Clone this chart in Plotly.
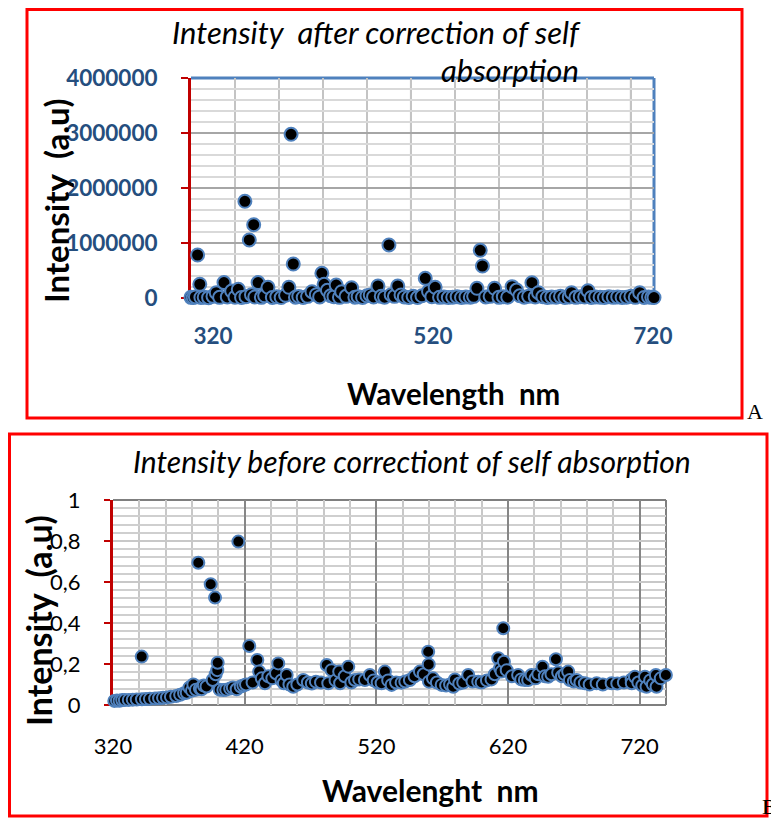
import plotly.graph_objects as go

# ---------------- Panel A data: intensity after correction of self absorption
wl_a = [300, 302, 304, 306, 308, 309, 312, 316, 320, 323, 326, 330, 333, 337, 340, 343, 346,
        349, 350, 353, 355, 357, 358, 361, 364, 367, 370, 374, 378, 382, 386, 389, 391, 393,
        395, 398, 402, 406, 410, 414, 417, 419, 421, 424, 427, 430, 432, 435, 437, 441, 446,
        449, 452, 456, 460, 463, 466, 470, 473, 476, 480, 482, 485, 488, 491, 494, 498, 502,
        506, 510, 513, 516, 519, 522, 526, 530, 534, 538, 542, 546, 550, 554, 557, 560, 563,
        565, 568, 572, 576, 580, 584, 588, 592, 596, 599, 603, 607, 610, 613, 616, 620, 624,
        628, 632, 636, 640, 644, 646, 650, 654, 658, 661, 664, 668, 672, 676, 680, 684, 688,
        692, 696, 700, 704, 708, 712, 716, 719, 721]
int_a = [12000, 8000, 20000, 782000, 250000, 10000, 15000, 6000, 30000, 96000, 12000, 280000,
         20000, 127000, 14000, 158000, 9000, 1758000, 25000, 1055000, 60000, 1333000, 18000,
         280000, 12000, 40000, 195000, 10000, 22000, 8000, 50000, 195000, 2976000, 618000,
         15000, 28000, 9000, 30000, 115000, 60000, 20000, 449000, 249000, 140000, 40000, 25000,
         236000, 12000, 115000, 30000, 187000, 15000, 25000, 10000, 40000, 55000, 20000, 218000,
         30000, 14000, 964000, 60000, 30000, 218000, 55000, 20000, 10000, 30000, 8000, 40000,
         358000, 120000, 25000, 195000, 12000, 20000, 8000, 15000, 25000, 10000, 20000, 14000,
         30000, 176000, 867000, 582000, 20000, 30000, 176000, 12000, 25000, 15000, 206000,
         145000, 40000, 15000, 30000, 278000, 20000, 96000, 25000, 10000, 20000, 15000, 30000,
         8000, 20000, 96000, 12000, 25000, 18000, 133000, 10000, 20000, 15000, 8000, 22000,
         12000, 20000, 10000, 15000, 30000, 12000, 96000, 10000, 20000, 12000, 8000]

a_xtick_vals = [320, 520, 720]
a_xtick_text = ["320", "520", "720"]
a_ytick_vals = [0, 1000000, 2000000, 3000000, 4000000]
a_ytick_text = ["0", "1000000", "2000000", "3000000", "4000000"]
a_minor_x = [300, 340, 380, 420, 460, 500, 540, 580, 620, 660, 700]
a_dark_x = [500, 700]

# ---------------- Panel B data: intensity before correction of self absorption
wl_b = [321, 323, 325, 327, 329, 332, 335, 338, 341.8, 342, 345, 348, 352, 355, 358, 361, 364,
        368, 371, 374, 376, 378, 380, 381, 383, 384.8, 386, 387.3, 389, 391, 394.2, 395.7,
        397.5, 398, 399.2, 399.5, 401, 403.8, 406, 409, 411, 413.9, 415.2, 417, 419, 421,
        423.5, 426, 429.6, 431, 433, 435.4, 438, 441, 443.8, 445.5, 448, 449.8, 451.9, 454,
        456.9, 460, 464.5, 468, 471, 474.1, 478, 482.3, 483.5, 486, 489, 491.8, 492.5, 496,
        498.7, 501, 503.8, 507, 511.3, 515.1, 518, 521, 524, 526.5, 529, 531.6, 535, 539.2,
        542, 545.5, 549, 553.1, 556, 559.4, 559.8, 560, 563, 566, 569.6, 573, 576, 578.4,
        579.7, 583, 586, 589.8, 593, 597.4, 600, 604, 607.5, 610, 612.6, 614, 615.1, 616.4,
        616.9, 619, 623, 627.7, 630, 632.8, 635.3, 637.9, 641, 643, 646.2, 648, 650.5, 653,
        656.4, 658.1, 661, 663, 665.7, 667, 670, 672.1, 675, 678.4, 682, 687.3, 692, 698.7,
        703, 708, 713.9, 714, 716.4, 719, 722, 724, 725.2, 728, 730, 732.3, 732.8, 736,
        739.9, 740.4]
int_b = [0.020, 0.022, 0.021, 0.024, 0.024, 0.025, 0.026, 0.027, 0.236, 0.028, 0.029, 0.030,
         0.032, 0.033, 0.035, 0.037, 0.040, 0.044, 0.050, 0.057, 0.060, 0.085, 0.070, 0.100,
         0.075, 0.694, 0.080, 0.077, 0.095, 0.090, 0.589, 0.122, 0.524, 0.150, 0.170, 0.206,
         0.075, 0.073, 0.075, 0.080, 0.085, 0.077, 0.797, 0.090, 0.095, 0.100, 0.288, 0.110,
         0.220, 0.163, 0.130, 0.106, 0.140, 0.130, 0.155, 0.203, 0.120, 0.106, 0.146, 0.100,
         0.089, 0.100, 0.122, 0.110, 0.105, 0.114, 0.110, 0.195, 0.106, 0.170, 0.120, 0.163,
         0.106, 0.140, 0.187, 0.110, 0.122, 0.125, 0.122, 0.146, 0.120, 0.110, 0.106, 0.163,
         0.120, 0.098, 0.110, 0.109, 0.115, 0.122, 0.140, 0.163, 0.150, 0.260, 0.198, 0.114,
         0.130, 0.110, 0.098, 0.095, 0.100, 0.089, 0.125, 0.105, 0.110, 0.146, 0.115, 0.114,
         0.110, 0.120, 0.125, 0.150, 0.228, 0.180, 0.163, 0.374, 0.211, 0.170, 0.140, 0.146,
         0.125, 0.122, 0.122, 0.146, 0.130, 0.150, 0.187, 0.140, 0.138, 0.150, 0.223, 0.158,
         0.140, 0.150, 0.163, 0.122, 0.115, 0.122, 0.110, 0.106, 0.100, 0.106, 0.100, 0.106,
         0.105, 0.110, 0.125, 0.106, 0.138, 0.110, 0.095, 0.138, 0.089, 0.120, 0.100, 0.146,
         0.089, 0.130, 0.146, 0.081]

b_xtick_vals = [320, 420, 520, 620, 720]
b_xtick_text = ["320", "420", "520", "620", "720"]
b_ytick_vals = [0, 0.2, 0.4, 0.6, 0.8, 1.0]
b_ytick_text = ["0", "0,2", "0,4", "0,6", "0,8", "1"]

W, H = 779, 819
OFF = 8  # page body margin shifts the figure by this many pixels
FONT = "Lato, 'Open Sans', sans-serif"
NAVY = "#254E7E"
RED_AX = "#C00000"
BLUE = "#4F81BD"


def px(x):
    return (x - OFF) / W


def py(y):
    return 1 - (y - OFF) / H


fig = go.Figure()

marker_a = dict(color="black", size=13, line=dict(color=BLUE, width=2))
marker_b = dict(color="black", size=12, line=dict(color=BLUE, width=2))
fig.add_trace(go.Scatter(x=wl_a, y=int_a, mode="markers", marker=marker_a,
                         xaxis="x", yaxis="y", cliponaxis=False, showlegend=False))
fig.add_trace(go.Scatter(x=wl_b, y=int_b, mode="markers", marker=marker_b,
                         xaxis="x2", yaxis="y2", cliponaxis=False, showlegend=False))

fig.update_layout(
    template="none",
    width=W, height=H, margin=dict(l=0, r=0, t=0, b=0, pad=0), autosize=False,
    paper_bgcolor="white", plot_bgcolor="white", showlegend=False,
    font=dict(family=FONT, color="black"),
    xaxis=dict(domain=[px(191), px(654)], anchor="y", range=[300, 721], automargin=False,
               tickmode="array", tickvals=a_xtick_vals, ticktext=a_xtick_text,
               showgrid=False, zeroline=False, showline=False, ticks="",
               ticklabelstandoff=22,
               tickfont=dict(family=FONT, size=22.5, color=NAVY, weight="bold"),
               minor=dict(tickmode="array", tickvals=a_minor_x, showgrid=True,
                          gridcolor="#C4C4C4", gridwidth=2, ticks="")),
    yaxis=dict(domain=[py(298), py(78)], anchor="x", range=[0, 4000000], automargin=False,
               tickmode="array", tickvals=a_ytick_vals, ticktext=a_ytick_text,
               showgrid=True, gridcolor="#A6A6A6", gridwidth=2,
               zeroline=False, showline=True, linecolor=RED_AX, linewidth=3,
               ticks="outside", ticklen=7, tickwidth=2, tickcolor=RED_AX,
               ticklabelstandoff=19, layer="below traces",
               tickfont=dict(family=FONT, size=22.5, color=NAVY, weight="bold"),
               minor=dict(dtick=200000, tick0=0, showgrid=True,
                          gridcolor="#D9D9D9", gridwidth=2, ticks="")),
    xaxis2=dict(domain=[px(113), px(666)], anchor="y2", range=[320, 740], automargin=False,
                tickmode="array", tickvals=b_xtick_vals, ticktext=b_xtick_text,
                showgrid=True, gridcolor="#868686", gridwidth=1.5,
                zeroline=False, showline=False, ticks="",
                ticklabelstandoff=26,
                tickfont=dict(family=FONT, size=22, color="black"),
                minor=dict(dtick=20, tick0=320, showgrid=True,
                           gridcolor="#C8C8C8", gridwidth=2, ticks="")),
    yaxis2=dict(domain=[py(705), py(500)], anchor="x2", range=[0, 1], automargin=False,
                tickmode="array", tickvals=b_ytick_vals, ticktext=b_ytick_text,
                showgrid=True, gridcolor="#C8C8C8", gridwidth=2,
                zeroline=False, showline=True, linecolor=RED_AX, linewidth=3,
                ticks="outside", ticklen=6, tickwidth=2, tickcolor=RED_AX,
                ticklabelstandoff=19, layer="below traces",
                tickfont=dict(family=FONT, size=22, color="black"),
                minor=dict(dtick=0.04, tick0=0, showgrid=True,
                           gridcolor="#CFCFCF", gridwidth=2, ticks="")),
)

shapes = []
# dark vertical grid lines in panel A
for xv in a_dark_x:
    shapes.append(dict(type="line", xref="x", yref="y domain", x0=xv, x1=xv, y0=0, y1=1,
                       line=dict(color="#8C8C8C", width=2), layer="below"))
# plot-area borders: top, right and bottom (left side is the red value axis)
for xr, yr, col, wd in [("x domain", "y domain", BLUE, 3), ("x2 domain", "y2 domain", "#7F7F7F", 2)]:
    for (x0, y0, x1, y1) in [(0, 1, 1, 1), (1, 0, 1, 1), (0, 0, 1, 0)]:
        shapes.append(dict(type="line", xref=xr, yref=yr, x0=x0, y0=y0, x1=x1, y1=y1,
                           line=dict(color=col, width=wd), layer="below"))
# red frames around each panel
shapes.append(dict(type="rect", xref="paper", yref="paper",
                   x0=px(27), x1=px(742), y0=py(418), y1=py(9.5),
                   line=dict(color="#FF0000", width=3), layer="above"))
shapes.append(dict(type="rect", xref="paper", yref="paper",
                   x0=px(9.5), x1=px(767), y0=py(816), y1=py(434),
                   line=dict(color="#FF0000", width=3), layer="above"))
fig.update_layout(shapes=shapes)

ann = []


def text(x, y, s, size, bold=False, italic=False, angle=0, family=FONT, color="black"):
    ann.append(dict(x=px(x), y=py(y), xref="paper", yref="paper", text=s, showarrow=False,
                    xanchor="center", yanchor="middle", textangle=angle,
                    font=dict(family=family, size=size, color=color,
                              weight="bold" if bold else "normal",
                              style="italic" if italic else "normal")))


text(376, 32, "Intensity  after correction of self", 31, italic=True)
text(510, 70, "absorption", 31, italic=True)
text(56, 201, "Intensity  (a.u)", 33, bold=True, angle=-90)
text(453, 393, "Wavelength  nm", 29.5, bold=True)
text(412, 461, "Intensity before correctiont of self absorption", 30, italic=True)
text(38, 621, "Intensity  (a.u)", 34, bold=True, angle=-90)
text(430, 790, "Wavelenght  nm", 30, bold=True)
text(755, 411, "A", 22, family="'Liberation Serif', 'DejaVu Serif', serif")
text(769, 806, "B", 22, family="'Liberation Serif', 'DejaVu Serif', serif")
fig.update_layout(annotations=ann)

fig.write_html("out.html")
